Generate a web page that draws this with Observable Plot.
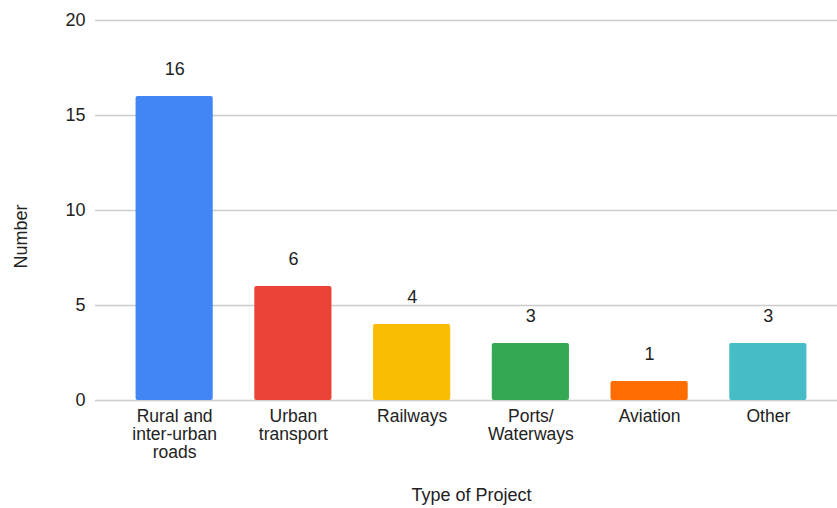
<!DOCTYPE html>
<html>
<head>
<meta charset="utf-8">
<script src="https://cdn.jsdelivr.net/npm/d3@7"></script>
<script src="https://cdn.jsdelivr.net/npm/@observablehq/plot@0.6"></script>
<style>
  html, body { margin: 0; padding: 0; background: #fff; }
  #chart svg { display: block; font-family: "Liberation Sans", Arial, sans-serif; }
</style>
</head>
<body>
<div id="chart"></div>
<script>
const categories = ["Rural and inter-urban roads", "Urban transport", "Railways", "Ports/ Waterways", "Aviation", "Other"];
const tickLabels = ["Rural and\ninter-urban\nroads", "Urban\ntransport", "Railways", "Ports/\nWaterways", "Aviation", "Other"];
const values = [16, 6, 4, 3, 1, 3];
const colors = ["#4285F4", "#EA4335", "#FBBC04", "#34A853", "#FF6D01", "#46BDC6"];
const yTicks = [0, 5, 10, 15, 20];

const data = categories.map((c, i) => ({category: c, value: values[i], color: colors[i]}));
const labelOf = new Map(categories.map((c, i) => [c, tickLabels[i]]));

const chart = Plot.plot({
  width: 837,
  height: 508,
  marginLeft: 95,
  marginRight: 0,
  marginTop: 20,
  marginBottom: 108,
  style: {fontFamily: '"Liberation Sans", Arial, sans-serif', fontSize: "18px", color: "#222"},
  x: {domain: categories, range: [94, 848], padding: 0.35, round: false, label: null},
  y: {domain: [0, 20], label: null},
  marks: [
    Plot.gridY(yTicks, {stroke: "#cccccc", strokeOpacity: 1, strokeWidth: 1.3}),
    Plot.axisY(yTicks, {tickSize: 0, tickPadding: 10, fontSize: 18, fill: "#222", label: null}),
    Plot.barY(data, {x: "category", y: "value", fill: "color", rx: 2}),
    Plot.ruleY([0], {x1: 95, x2: 837, stroke: "#333", strokeWidth: 1.5}),
    Plot.axisX({tickSize: 0, tickPadding: 9, fontSize: 17.5, fill: "#222", lineHeight: 1.03, label: null, tickFormat: d => labelOf.get(d)}),
    Plot.text(data, {x: "category", y: "value", text: d => String(d.value), dy: -27, fontSize: 18, fill: "#222"}),
    Plot.text(["Type of Project"], {frameAnchor: "bottom", textAnchor: "middle", lineAnchor: "middle", dx: 5, dy: 95, fontSize: 18, fill: "#222"}),
    Plot.text(["Number"], {frameAnchor: "left", textAnchor: "middle", lineAnchor: "middle", dx: -74, dy: 26, rotate: -90, fontSize: 18, fill: "#222"})
  ]
});
document.getElementById("chart").appendChild(chart);
</script>
</body>
</html>
